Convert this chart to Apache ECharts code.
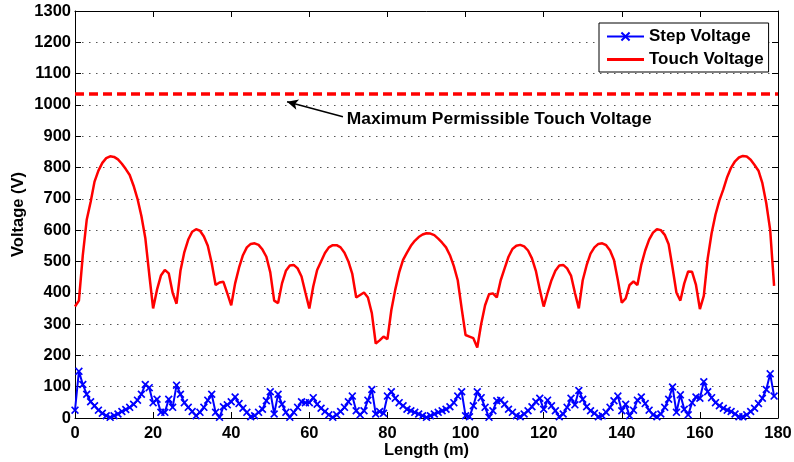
<!DOCTYPE html>
<html><head><meta charset="utf-8">
<script src="https://cdn.jsdelivr.net/npm/echarts@6/dist/echarts.min.js"></script>
<style>html,body{margin:0;padding:0;background:#fff}#c{width:794px;height:462px}</style>
</head><body><div id="c"></div>
<script>
// Length (m) per sample index 0..179
const stepVoltage = [25,149,107,76,52,39,25,15,7,2,7,13,21,27,34,44,57,76,107,97,
49,60,18,18,60,34,105,76,49,34,21,7,18,34,57,76,18,2,36,42,
52,67,46,31,18,4,7,18,28,55,84,13,76,44,18,2,18,34,52,49,
49,65,44,31,21,10,2,10,21,34,52,70,23,10,23,57,91,13,21,15,
70,84,63,49,39,28,23,18,13,7,2,7,13,18,23,28,36,49,70,84,
7,4,39,84,65,34,2,23,55,57,44,28,18,7,4,13,23,36,52,63,
28,57,39,23,4,13,34,63,42,88,60,36,23,15,4,7,18,34,55,70,
23,44,7,25,57,67,46,25,10,4,13,34,60,99,18,74,28,10,49,67,
63,116,84,65,49,39,31,25,21,13,4,4,10,21,31,46,63,91,141,70];
const touchVoltage = [356,375,520,633,690,755,790,815,830,836,834,826,812,795,776,742,700,645,575,460,
350,410,455,473,462,400,365,470,530,570,595,603,598,580,550,495,425,433,435,398,
360,430,480,520,545,556,558,553,538,515,465,375,367,430,470,487,489,478,452,400,
350,420,473,500,527,545,552,552,545,528,500,460,385,393,401,385,335,238,248,260,
252,345,410,465,505,528,550,566,578,586,590,589,584,573,560,545,520,485,440,350,
265,260,255,225,300,360,395,398,385,440,478,515,540,550,553,548,535,510,470,410,
356,400,440,470,487,489,478,455,400,350,440,488,525,545,556,558,552,535,505,440,
368,382,425,436,425,490,535,570,592,603,600,585,555,480,400,375,430,468,467,425,
348,390,510,590,650,695,730,770,800,820,832,837,835,825,808,790,750,686,600,422];
const seriesNames = ['Step Voltage', 'Touch Voltage'];
const maxPermissibleTouch = 1035;
const annotationText = 'Maximum Permissible Touch Voltage';
const annotationTail = [68.6, 962];
const annotationTip = [54.3, 1010];
const annotationTextAt = [69.6, 955];
const xRange = [0, 180, 20];
const yRange = [0, 1300, 100];

const FONT = '"Liberation Sans", Arial, Helvetica, sans-serif';
const toPairs = arr => arr.map((v, i) => [i, v]);
const txt = {fontFamily: FONT, fontWeight: 'bold', fontSize: 16.5, color: '#000'};
const axisLine = {show: true, onZero: false, lineStyle: {color: '#000', width: 1}};
const tick = {show: true, inside: true, length: 6, lineStyle: {color: '#000'}};
const plain = v => String(v);

const chart = echarts.init(document.getElementById('c'), null, {renderer: 'canvas'});
chart.setOption({
  animation: false,
  backgroundColor: '#fff',
  grid: {left: 75, right: 16, top: 11, bottom: 44, containLabel: false, outerBoundsMode: 'none'},
  legend: {
    orient: 'vertical', left: 599, top: 23,
    padding: [5, 5, 4, 7], itemGap: 6, itemWidth: 37, itemHeight: 12,
    borderColor: '#000', borderWidth: 1, backgroundColor: '#fff',
    textStyle: Object.assign({}, txt, {fontSize: 17}),
    data: [{name: seriesNames[0]}, {name: seriesNames[1], icon: 'path://M0,0H37V3H0Z'}]
  },
  xAxis: [
    {type: 'value', min: xRange[0], max: xRange[1], interval: xRange[2], position: 'bottom',
     axisLine: axisLine, axisTick: tick, splitLine: {show: false},
     axisLabel: Object.assign({margin: 7, formatter: plain}, txt),
     name: 'Length (m)', nameLocation: 'middle', nameGap: 24, nameMoveOverlap: false, nameTextStyle: txt},
    {type: 'value', min: xRange[0], max: xRange[1], interval: xRange[2], position: 'top',
     axisLine: axisLine, axisTick: tick, splitLine: {show: false}, axisLabel: {show: false}}
  ],
  yAxis: [
    {type: 'value', min: yRange[0], max: yRange[1], interval: yRange[2], position: 'left',
     axisLine: axisLine, axisTick: tick,
     splitLine: {show: true, lineStyle: {color: '#555', width: 1, type: [1.5, 5.5]}},
     axisLabel: Object.assign({margin: 4, formatter: plain}, txt),
     name: 'Voltage (V)', nameLocation: 'middle', nameGap: 48, nameMoveOverlap: false, nameTextStyle: txt},
    {type: 'value', min: yRange[0], max: yRange[1], interval: yRange[2], position: 'right',
     axisLine: axisLine, axisTick: tick, splitLine: {show: false}, axisLabel: {show: false}}
  ],
  series: [
    {
      name: seriesNames[0], type: 'line', xAxisIndex: 0, yAxisIndex: 0,
      data: toPairs(stepVoltage),
      symbol: 'path://M0,1.5L1.5,0L5,3.5L8.5,0L10,1.5L6.5,5L10,8.5L8.5,10L5,6.5L1.5,10L0,8.5L3.5,5Z',
      symbolSize: 8, showAllSymbol: true,
      lineStyle: {color: '#0000ff', width: 2},
      itemStyle: {color: '#0000ff'}
    },
    {
      name: seriesNames[1], type: 'line', xAxisIndex: 0, yAxisIndex: 0,
      data: toPairs(touchVoltage),
      symbol: 'none',
      lineStyle: {color: '#ff0000', width: 2.5},
      itemStyle: {color: '#ff0000'},
      markLine: {
        silent: true, symbol: ['none', 'none'], label: {show: false},
        data: [
          {yAxis: maxPermissibleTouch, lineStyle: {color: '#ff0000', width: 3.5, type: [9, 5]}},
          [
            {coord: annotationTail, symbol: 'none', lineStyle: {color: '#000', width: 1.5, type: 'solid'}},
            {coord: annotationTip, symbol: 'arrow', symbolSize: [8, 11]}
          ]
        ]
      },
      markPoint: {
        silent: true,
        data: [{coord: annotationTextAt, symbol: 'circle', symbolSize: 0,
          label: Object.assign({show: true, position: 'right', distance: 0, formatter: annotationText}, txt, {fontSize: 17.4})}]
      }
    }
  ]
});
</script></body></html>
